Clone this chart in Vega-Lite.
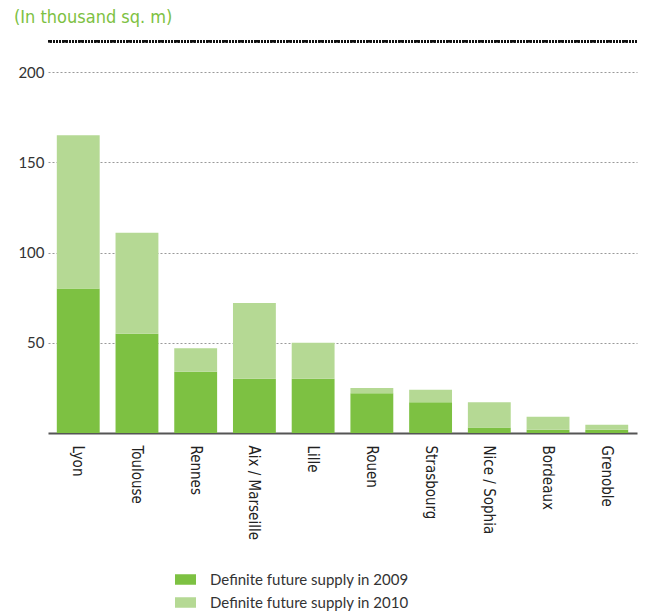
{
  "$schema": "https://vega.github.io/schema/vega-lite/v6.json",
  "autosize": "none",
  "width": 589,
  "height": 361,
  "padding": {"left": 48, "top": 72, "right": 11, "bottom": 183},
  "background": "white",
  "title": {
    "text": "(In thousand sq. m)",
    "anchor": "start",
    "frame": "group",
    "dx": -34,
    "offset": 13,
    "color": "#7DC142",
    "font": "Liberation Sans Narrow, DejaVu Sans Condensed, Roboto Condensed, sans-serif",
    "fontSize": 18,
    "fontWeight": "normal"
  },
  "config": {
    "view": {"stroke": null},
    "font": "Lato, Noto Sans, sans-serif"
  },
  "data": {
    "values": [
      {"city": "Lyon", "series": "Definite future supply in 2009", "value": 80},
      {"city": "Lyon", "series": "Definite future supply in 2010", "value": 85},
      {"city": "Toulouse", "series": "Definite future supply in 2009", "value": 55},
      {"city": "Toulouse", "series": "Definite future supply in 2010", "value": 56},
      {"city": "Rennes", "series": "Definite future supply in 2009", "value": 34},
      {"city": "Rennes", "series": "Definite future supply in 2010", "value": 13},
      {"city": "Aix / Marseille", "series": "Definite future supply in 2009", "value": 30},
      {"city": "Aix / Marseille", "series": "Definite future supply in 2010", "value": 42},
      {"city": "Lille", "series": "Definite future supply in 2009", "value": 30},
      {"city": "Lille", "series": "Definite future supply in 2010", "value": 20},
      {"city": "Rouen", "series": "Definite future supply in 2009", "value": 22},
      {"city": "Rouen", "series": "Definite future supply in 2010", "value": 3},
      {"city": "Strasbourg", "series": "Definite future supply in 2009", "value": 17},
      {"city": "Strasbourg", "series": "Definite future supply in 2010", "value": 7},
      {"city": "Nice / Sophia", "series": "Definite future supply in 2009", "value": 3},
      {"city": "Nice / Sophia", "series": "Definite future supply in 2010", "value": 14},
      {"city": "Bordeaux", "series": "Definite future supply in 2009", "value": 1.8},
      {"city": "Bordeaux", "series": "Definite future supply in 2010", "value": 7.2},
      {"city": "Grenoble", "series": "Definite future supply in 2009", "value": 1.8},
      {"city": "Grenoble", "series": "Definite future supply in 2010", "value": 2.8}
    ]
  },
  "layer": [
    {
      "mark": {"type": "bar"},
      "encoding": {
        "x": {
          "field": "city",
          "type": "nominal",
          "sort": null,
          "scale": {"paddingInner": 0.27, "paddingOuter": 0.15},
          "axis": {
            "title": null,
            "labelAngle": 90,
            "labelAlign": "left",
            "labelBaseline": "middle",
            "labelPadding": 12,
            "labelFontSize": 15,
            "labelColor": "#222222",
            "labelFont": "Liberation Sans Narrow, DejaVu Sans Condensed, Roboto Condensed, sans-serif",
            "ticks": false,
            "domainColor": "#555555",
            "domainWidth": 2,
            "grid": false
          }
        },
        "y": {
          "field": "value",
          "type": "quantitative",
          "stack": "zero",
          "scale": {"domain": [0, 200], "nice": false},
          "axis": {
            "title": null,
            "values": [50, 100, 150, 200],
            "domain": false,
            "ticks": false,
            "labelPadding": 4,
            "labelFontSize": 15,
            "labelColor": "#333333",
            "grid": true,
            "gridColor": "#999999",
            "gridDash": [2, 2],
            "gridWidth": 1
          }
        },
        "order": {"field": "series", "sort": "ascending"},
        "color": {
          "field": "series",
          "type": "nominal",
          "scale": {
            "domain": ["Definite future supply in 2009", "Definite future supply in 2010"],
            "range": ["#7DC142", "#B5D994"]
          },
          "legend": {
            "title": null,
            "orient": "none",
            "legendX": 127,
            "legendY": 497,
            "direction": "vertical",
            "symbolType": "M-1,-0.5H1V0.5H-1Z",
            "symbolSize": 441,
            "symbolStrokeWidth": 0,
            "labelFontSize": 15,
            "labelColor": "#333333",
            "labelOffset": 14,
            "labelLimit": 0,
            "rowPadding": 4,
            "padding": 0
          }
        }
      }
    },
    {
      "mark": {"type": "rule", "color": "#111111", "strokeWidth": 2, "strokeDash": [1.6, 1.6]},
      "encoding": {"y": {"datum": 217}}
    }
  ]
}
